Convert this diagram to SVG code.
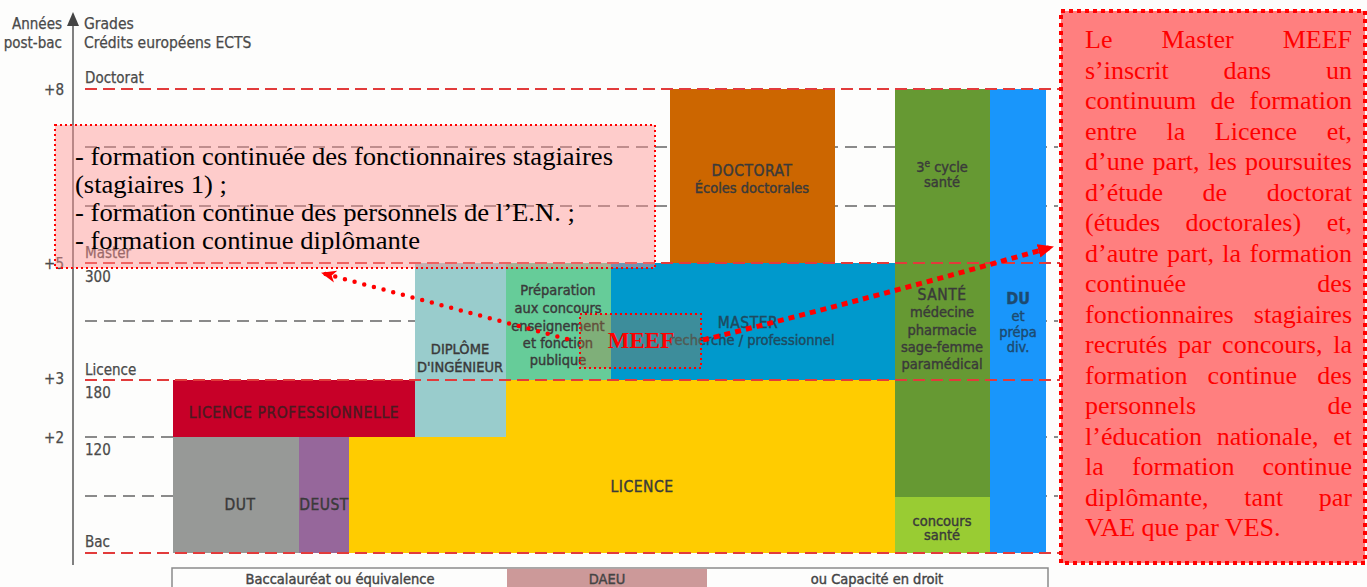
<svg xmlns="http://www.w3.org/2000/svg" width="1367" height="587" viewBox="0 0 1367 587">
<defs>
<style>
.lbl{font-family:'DejaVu Sans Condensed','Liberation Sans Narrow','DejaVu Sans',sans-serif;font-stretch:condensed;fill:#4a4a4a;font-size:15px;stroke:#4a4a4a;stroke-width:0.25px}
.hdr{font-size:15.5px}
.ax{font-family:'DejaVu Sans Condensed','Liberation Sans Narrow','DejaVu Sans',sans-serif;font-stretch:condensed;fill:#4a4a4a;font-size:15px;text-anchor:end;stroke:#4a4a4a;stroke-width:0.25px}
.bt{font-family:'DejaVu Sans Condensed','Liberation Sans Narrow','DejaVu Sans',sans-serif;font-stretch:condensed;fill:#3a3a3a;font-size:14.5px;text-anchor:middle;stroke:#3a3a3a;stroke-width:0.4px}
.big{font-size:15.5px;letter-spacing:0.5px}
.red{stroke:#e23b3b;stroke-width:2;stroke-dasharray:12 6;fill:none}
.grey{stroke:#8a8a8a;stroke-width:2;stroke-dasharray:12 7;fill:none}
.ser{font-family:'Liberation Serif','Times New Roman',serif}
.rt{font-family:'Liberation Serif','Times New Roman',serif;font-size:26px;fill:#ff0000}
.e{text-anchor:end}
</style>
<marker id="ahL" viewBox="0 -7 16 14" markerWidth="16" markerHeight="14" refX="14" refY="0" orient="auto" markerUnits="userSpaceOnUse">
<path d="M0,-6 L15,0 L0,6 L4,0 z" fill="#ff0000"/>
</marker>
<marker id="ahR" viewBox="0 -7 16 14" markerWidth="16" markerHeight="14" refX="14" refY="0" orient="auto" markerUnits="userSpaceOnUse">
<path d="M0,-7 L16,0 L0,7 z" fill="#ff0000"/>
</marker>
</defs>
<rect x="0" y="0" width="1367" height="587" fill="#fdfdfc"/>

<g id="grey-levels">
<line class="grey" x1="85" y1="147" x2="1058" y2="147"/>
<line class="grey" x1="85" y1="206" x2="1058" y2="206"/>
<line class="grey" x1="85" y1="321" x2="1058" y2="321"/>
<line class="grey" x1="85" y1="437" x2="1058" y2="437"/>
<line class="grey" x1="85" y1="496" x2="1058" y2="496"/>
</g>

<g id="axis">
<line x1="73" y1="22" x2="73" y2="565" stroke="#808080" stroke-width="2"/>
<path d="M73,12 L79,26 L67,26 z" fill="#444"/>
<text class="ax" x="62" y="29">Années</text>
<text class="ax" x="62" y="48">post-bac</text>
<text class="lbl hdr" x="84" y="29">Grades</text>
<text class="lbl hdr" x="84" y="48">Crédits européens ECTS</text>
<text class="ax" x="64" y="95">+8</text>
<text class="ax" x="64" y="269">+5</text>
<text class="ax" x="64" y="384">+3</text>
<text class="ax" x="64" y="443">+2</text>
<text class="lbl" x="85" y="83">Doctorat</text>
<text class="lbl" x="85" y="258">Master</text>
<text class="lbl" x="85" y="282">300</text>
<text class="lbl" x="85" y="375">Licence</text>
<text class="lbl" x="85" y="398">180</text>
<text class="lbl" x="85" y="455">120</text>
<text class="lbl" x="85" y="547">Bac</text>
</g>

<g id="licence">
<path d="M349,437 H506 V380 H895 V553 H349 z" fill="#ffcc00"/>
<text class="bt big" x="642" y="492">LICENCE</text>
</g>
<g id="licence-pro">
<rect x="173" y="380" width="242" height="57" fill="#c70028"/>
<text class="bt big" x="294" y="418" style="fill:#4a1a20;stroke:#4a1a20;letter-spacing:0.6px">LICENCE PROFESSIONNELLE</text>
</g>
<g id="dut">
<rect x="173" y="437" width="126" height="116" fill="#979997"/>
<text class="bt big" x="240" y="510">DUT</text>
</g>
<g id="deust">
<rect x="299" y="437" width="50" height="116" fill="#96679b"/>
<text class="bt big" x="324" y="510">DEUST</text>
</g>
<g id="ingenieur">
<rect x="415" y="263" width="91" height="174" fill="#99cccc"/>
<text class="bt" x="460" y="354">DIPLÔME</text>
<text class="bt" x="460" y="372">D'INGÉNIEUR</text>
</g>
<g id="preparation">
<rect x="506" y="263" width="105" height="117" fill="#66cc99"/>
<text class="bt" x="558" y="295">Préparation</text>
<text class="bt" x="558" y="313">aux concours</text>
<text class="bt" x="558" y="331">enseignement</text>
<text class="bt" x="558" y="348">et fonction</text>
<text class="bt" x="558" y="365">publique</text>
</g>
<g id="master">
<rect x="611" y="263" width="284" height="117" fill="#0099cc"/>
<text class="bt big" x="748" y="328" style="fill:#1f4a60;stroke:#1f4a60">MASTER</text>
<text class="bt" x="752" y="345" style="fill:#1f4a60;stroke:#1f4a60">recherche / professionnel</text>
</g>
<g id="doctorat">
<rect x="670" y="89" width="165" height="174" fill="#cc6600"/>
<text class="bt big" x="752" y="176">DOCTORAT</text>
<text class="bt" x="752" y="193">Écoles doctorales</text>
</g>
<g id="sante">
<rect x="895" y="89" width="95" height="408" fill="#669933"/>
<text class="bt" x="942" y="172">3<tspan font-size="10" dy="-5">e</tspan><tspan dy="5"> cycle</tspan></text>
<text class="bt" x="942" y="187">santé</text>
<text class="bt big" x="942" y="300">SANTÉ</text>
<text class="bt" x="942" y="317">médecine</text>
<text class="bt" x="942" y="335">pharmacie</text>
<text class="bt" x="942" y="352">sage-femme</text>
<text class="bt" x="942" y="369">paramédical</text>
</g>
<g id="concours-sante">
<rect x="895" y="497" width="95" height="56" fill="#99cc33"/>
<text class="bt" x="942" y="526">concours</text>
<text class="bt" x="942" y="540">santé</text>
</g>
<g id="du">
<rect x="990" y="89" width="56" height="464" fill="#1996fb"/>
<text class="bt" x="1018" y="304" style="fill:#1d4a70;stroke:#1d4a70;font-size:16px;font-weight:bold">DU</text>
<text class="bt" x="1018" y="321" style="fill:#1d4a70;stroke:#1d4a70">et</text>
<text class="bt" x="1018" y="337" style="fill:#1d4a70;stroke:#1d4a70">prépa</text>
<text class="bt" x="1018" y="352" style="fill:#1d4a70;stroke:#1d4a70">div.</text>
</g>

<g id="red-levels">
<line class="red" x1="85" y1="89" x2="1060" y2="89"/>
<line class="red" x1="85" y1="263" x2="1060" y2="263"/>
<line class="red" x1="85" y1="380" x2="1060" y2="380"/>
<line class="red" x1="85" y1="553" x2="1060" y2="553"/>
</g>

<g id="access-strip">
<rect x="172" y="568" width="876" height="24" fill="#fdfdfc" stroke="#8a8a8a" stroke-width="1.5"/>
<rect x="507" y="568.8" width="200" height="22" fill="#cc9999"/>
<text class="bt" x="340" y="584" style="fill:#444;stroke:#444;font-size:14.5px">Baccalauréat ou équivalence</text>
<text class="bt" x="607" y="584" style="fill:#444;stroke:#444;font-size:14.5px">DAEU</text>
<text class="bt" x="877" y="584" style="fill:#444;stroke:#444;font-size:14.5px">ou Capacité en droit</text>
</g>

<g id="formation-box">
<rect x="55" y="125" width="600" height="143" fill="#ff9090" fill-opacity="0.45" stroke="#ff0000" stroke-width="2" stroke-dasharray="2 3"/>
<text class="ser" font-size="24.5" fill="#000" x="75" y="165" textLength="538" lengthAdjust="spacingAndGlyphs">- formation continuée des fonctionnaires stagiaires</text>
<text class="ser" font-size="24.5" fill="#000" x="75" y="193" textLength="152" lengthAdjust="spacingAndGlyphs">(stagiaires 1) ;</text>
<text class="ser" font-size="24.5" fill="#000" x="75" y="221" textLength="500" lengthAdjust="spacingAndGlyphs">- formation continue des personnels de l’E.N. ;</text>
<text class="ser" font-size="24.5" fill="#000" x="75" y="249" textLength="345" lengthAdjust="spacingAndGlyphs">- formation continue diplômante</text>
</g>

<g id="meef">
<rect x="580" y="314" width="121" height="54" fill="#b07840" fill-opacity="0.35" stroke="#ff0000" stroke-width="2" stroke-dasharray="2 3"/>
<text class="ser" x="641" y="348" font-size="23" font-weight="bold" fill="#ff0000" text-anchor="middle">MEEF</text>
</g>

<g id="connectors">
<path d="M567,339 L322,273" fill="none" stroke="#ff0000" stroke-width="4.5" stroke-linecap="round" stroke-dasharray="0 10" marker-end="url(#ahL)"/>
<path d="M703,340 Q880,296 1052,247" fill="none" stroke="#ff0000" stroke-width="5" stroke-dasharray="6 5" marker-end="url(#ahR)"/>
</g>

<g id="meef-note">
<rect x="1061" y="11" width="304" height="552" fill="#ff7f7f" stroke="#ff0000" stroke-width="4" stroke-dasharray="4 4"/>
<g class="rt">
<text x="1085" y="48">Le</text><text x="1161.5" y="48">Master</text><text class="e" x="1352" y="48">MEEF</text>
<text x="1085" y="78.5">s’inscrit</text><text x="1223.5" y="78.5">dans</text><text class="e" x="1352" y="78.5">un</text>
<text x="1085" y="109">continuum</text><text x="1210.6" y="109">de</text><text class="e" x="1352" y="109">formation</text>
<text x="1085" y="139.5">entre</text><text x="1166.5" y="139.5">la</text><text x="1214.8" y="139.5">Licence</text><text class="e" x="1352" y="139.5">et,</text>
<text x="1085" y="170">d’une</text><text x="1152.6" y="170">part,</text><text x="1207.9" y="170">les</text><text class="e" x="1352" y="170">poursuites</text>
<text x="1085" y="200.5">d’étude</text><text x="1202.6" y="200.5">de</text><text class="e" x="1352" y="200.5">doctorat</text>
<text x="1085" y="231">(études</text><text x="1185.6" y="231">doctorales)</text><text class="e" x="1352" y="231">et,</text>
<text x="1085" y="261.5">d’autre</text><text x="1167" y="261.5">part,</text><text x="1222.3" y="261.5">la</text><text class="e" x="1352" y="261.5">formation</text>
<text x="1085" y="292">continuée</text><text class="e" x="1352" y="292">des</text>
<text x="1085" y="322.5">fonctionnaires</text><text class="e" x="1352" y="322.5">stagiaires</text>
<text x="1085" y="353">recrutés</text><text x="1178.1" y="353">par</text><text x="1222.1" y="353">concours,</text><text class="e" x="1352" y="353">la</text>
<text x="1085" y="383.5">formation</text><text x="1207.6" y="383.5">continue</text><text class="e" x="1352" y="383.5">des</text>
<text x="1085" y="414">personnels</text><text class="e" x="1352" y="414">de</text>
<text x="1085" y="444.5">l’éducation</text><text x="1216.7" y="444.5">nationale,</text><text class="e" x="1352" y="444.5">et</text>
<text x="1085" y="475">la</text><text x="1131.9" y="475">formation</text><text class="e" x="1352" y="475">continue</text>
<text x="1085" y="505.5">diplômante,</text><text x="1244.2" y="505.5">tant</text><text class="e" x="1352" y="505.5">par</text>
<text x="1085" y="536">VAE que par VES.</text>
</g>
</g>
</svg>
